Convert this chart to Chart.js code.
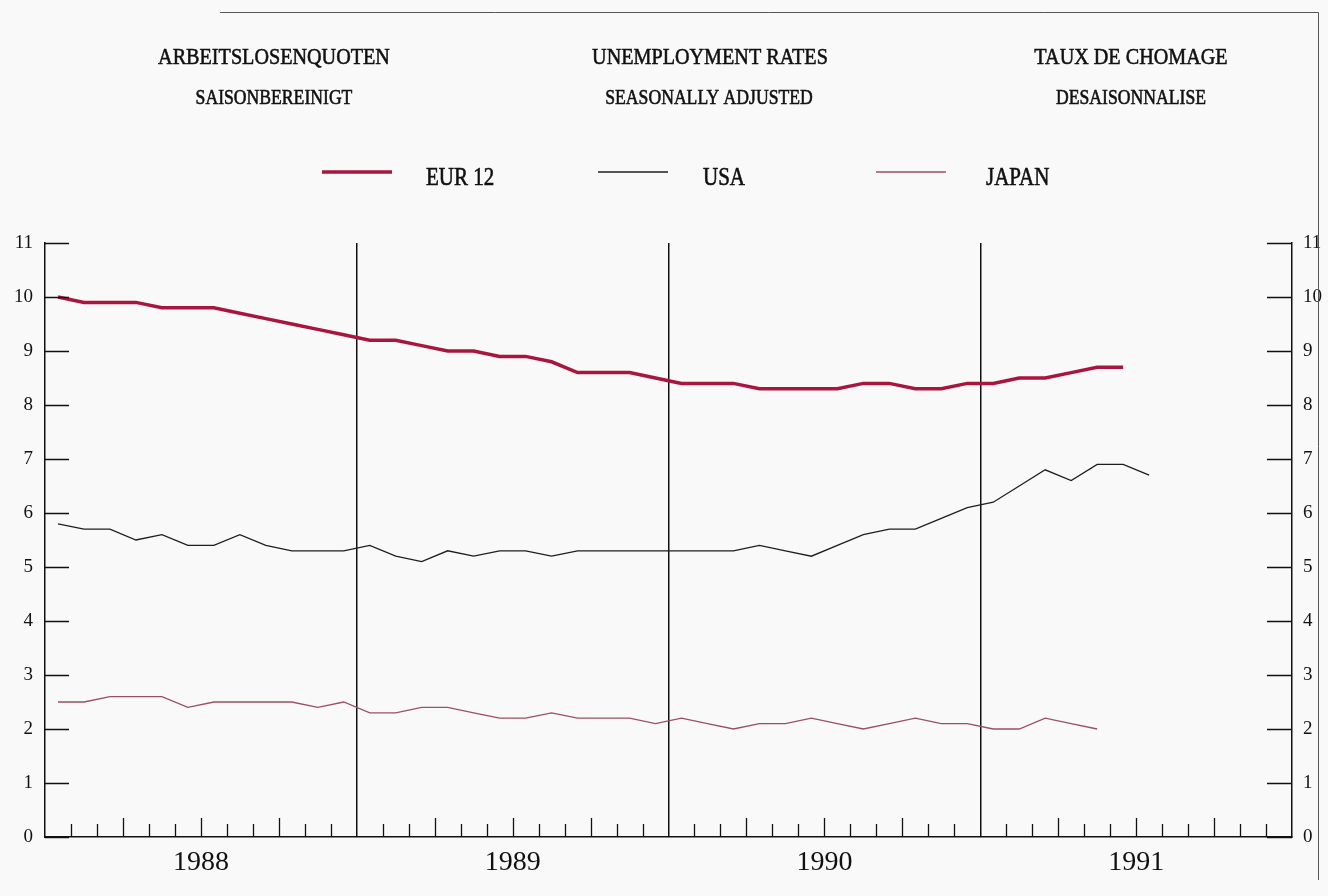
<!DOCTYPE html>
<html>
<head>
<meta charset="utf-8">
<script src="https://cdn.jsdelivr.net/npm/chart.js@4.4.0/dist/chart.umd.min.js"></script>
<style>
  html, body { margin: 0; padding: 0; background: #f9f9f9; }
  canvas { display: block; }
</style>
</head>
<body>
<canvas id="chart" width="1328" height="896"></canvas>
<script>
// monthly values, Jan 1988 onwards
const years = ['1988', '1989', '1990', '1991'];
const eur12 = [10.0, 9.9, 9.9, 9.9, 9.8, 9.8, 9.8, 9.7, 9.6, 9.5, 9.4, 9.3,
               9.2, 9.2, 9.1, 9.0, 9.0, 8.9, 8.9, 8.8, 8.6, 8.6, 8.6, 8.5,
               8.4, 8.4, 8.4, 8.3, 8.3, 8.3, 8.3, 8.4, 8.4, 8.3, 8.3, 8.4,
               8.4, 8.5, 8.5, 8.6, 8.7, 8.7];
const usa = [5.8, 5.7, 5.7, 5.5, 5.6, 5.4, 5.4, 5.6, 5.4, 5.3, 5.3, 5.3,
             5.4, 5.2, 5.1, 5.3, 5.2, 5.3, 5.3, 5.2, 5.3, 5.3, 5.3, 5.3,
             5.3, 5.3, 5.3, 5.4, 5.3, 5.2, 5.4, 5.6, 5.7, 5.7, 5.9, 6.1,
             6.2, 6.5, 6.8, 6.6, 6.9, 6.9, 6.7];
const japan = [2.5, 2.5, 2.6, 2.6, 2.6, 2.4, 2.5, 2.5, 2.5, 2.5, 2.4, 2.5,
               2.3, 2.3, 2.4, 2.4, 2.3, 2.2, 2.2, 2.3, 2.2, 2.2, 2.2, 2.1,
               2.2, 2.1, 2.0, 2.1, 2.1, 2.2, 2.1, 2.0, 2.1, 2.2, 2.1, 2.1,
               2.0, 2.0, 2.2, 2.1, 2.0];
const seriesNames = ['EUR 12', 'USA', 'JAPAN'];
const seriesColors = ['#a8163e', '#1e1e1e', '#9a5062'];
const seriesWidths = [3.5, 1.3, 1.3];

const serif = "'Liberation Serif', 'DejaVu Serif', serif";
const toPoints = arr => arr.map((v, i) => ({ x: i + 0.5, y: v }));

// narrow, heavy lettering of the original print
function narrowText(ctx, text, x, y, size, align, sx) {
  ctx.save();
  ctx.translate(x, y);
  ctx.scale(sx, 1);
  ctx.font = size + 'px ' + serif;
  ctx.textAlign = align;
  ctx.textBaseline = 'middle';
  ctx.fillStyle = '#111';
  ctx.strokeStyle = '#111';
  ctx.lineWidth = 0.6;
  ctx.fillText(text, 0, 0);
  ctx.strokeText(text, 0, 0);
  ctx.restore();
}

const decorations = {
  id: 'decorations',
  afterDraw(chart) {
    const { ctx, chartArea, scales } = chart;
    const x = scales.x, y = scales.y;
    ctx.save();

    // scanned page frame
    ctx.strokeStyle = '#555';
    ctx.lineWidth = 1;
    ctx.beginPath();
    ctx.moveTo(220, 12.5); ctx.lineTo(1318.5, 12.5); ctx.lineTo(1318.5, 880);
    ctx.stroke();

    // titles
    narrowText(ctx, 'ARBEITSLOSENQUOTEN', 274, 58, 24, 'center', 0.84);
    narrowText(ctx, 'UNEMPLOYMENT RATES', 710, 58, 24, 'center', 0.84);
    narrowText(ctx, 'TAUX DE CHOMAGE', 1131, 58, 24, 'center', 0.84);
    narrowText(ctx, 'SAISONBEREINIGT', 274, 98, 21, 'center', 0.84);
    narrowText(ctx, 'SEASONALLY ADJUSTED', 709, 98, 21, 'center', 0.84);
    narrowText(ctx, 'DESAISONNALISE', 1131, 98, 21, 'center', 0.84);

    // legend
    const legendX = [322, 598, 876];
    const textX = [426, 703, 986];
    chart.data.datasets.forEach((ds, i) => {
      ctx.strokeStyle = ds.borderColor;
      ctx.lineWidth = ds.borderWidth;
      ctx.beginPath();
      ctx.moveTo(legendX[i], 172);
      ctx.lineTo(legendX[i] + 70, 172);
      ctx.stroke();
      narrowText(ctx, ds.label, textX[i], 178, 25, 'left', 0.84);
    });

    // inward tick marks on both value axes
    ctx.strokeStyle = '#111';
    ctx.lineWidth = 1.3;
    y.ticks.forEach(t => {
      const py = Math.round(y.getPixelForValue(t.value)) + 0.5;
      ctx.beginPath();
      ctx.moveTo(chartArea.left, py); ctx.lineTo(chartArea.left + 24, py);
      ctx.moveTo(chartArea.right, py); ctx.lineTo(chartArea.right - 25, py);
      ctx.stroke();
    });

    // month ticks along the bottom
    for (let m = 1; m < 48; m++) {
      if (m % 12 === 0) continue;
      const px = Math.round(x.getPixelForValue(m)) + 0.5;
      const len = m % 3 === 0 ? 19 : 13;
      ctx.beginPath();
      ctx.moveTo(px, chartArea.bottom);
      ctx.lineTo(px, chartArea.bottom - len);
      ctx.stroke();
    }
    ctx.restore();
  }
};

new Chart(document.getElementById('chart'), {
  type: 'line',
  data: {
    datasets: seriesNames.map((name, i) => ({
      label: name,
      data: toPoints([eur12, usa, japan][i]),
      borderColor: seriesColors[i],
      borderWidth: seriesWidths[i],
      pointRadius: 0,
      tension: 0,
      fill: false
    }))
  },
  options: {
    responsive: false,
    animation: false,
    layout: { padding: { top: 243, left: 0, right: 0, bottom: 0 } },
    plugins: { legend: { display: false }, tooltip: { enabled: false } },
    scales: {
      x: {
        type: 'linear', min: 0, max: 48,
        afterFit: s => { s.height = 59; },
        ticks: {
          stepSize: 6, autoSkip: false, maxRotation: 0, padding: 9,
          color: '#111', font: { family: serif, size: 28 },
          callback: v => (v % 12 === 6 ? years[(v - 6) / 12] : '')
        },
        grid: {
          drawTicks: false,
          lineWidth: 1.5,
          color: c => (c.tick && c.tick.value % 12 === 0 && c.tick.value > 0 && c.tick.value < 48) ? '#111' : 'rgba(0,0,0,0)'
        },
        border: { display: true, color: '#111', width: 1.5 }
      },
      y: {
        position: 'left', min: 0, max: 11,
        afterFit: s => { s.width = 45; },
        ticks: { stepSize: 1, padding: 12, color: '#111', font: { family: serif, size: 19 } },
        grid: { drawOnChartArea: false, drawTicks: false },
        border: { display: true, color: '#111', width: 1.5 }
      },
      y2: {
        position: 'right', min: 0, max: 11,
        afterFit: s => { s.width = 36; },
        ticks: { stepSize: 1, padding: 11, color: '#111', font: { family: serif, size: 19 } },
        grid: { drawOnChartArea: false, drawTicks: false },
        border: { display: true, color: '#111', width: 1.5 }
      }
    }
  },
  plugins: [decorations]
});
</script>
</body>
</html>
